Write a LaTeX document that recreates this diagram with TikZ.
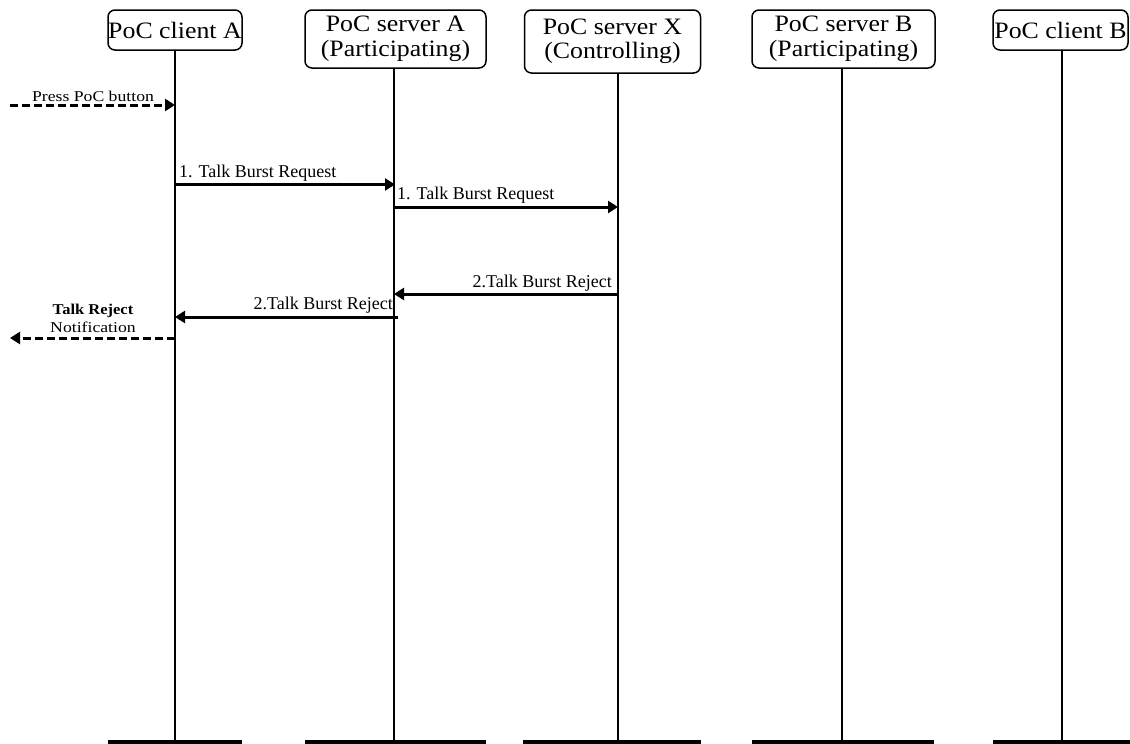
\documentclass[tikz,border=0pt]{standalone}
\usepackage{fontspec}
\setmainfont{Liberation Serif}
\usepackage{graphicx}
\usetikzlibrary{arrows.meta}
\newcommand\wide[1]{\scalebox{1.1}[1]{#1}}
\newcommand\wider[1]{\scalebox{1.18}[1]{#1}}
\begin{document}
\begin{tikzpicture}[x=1pt,y=-1pt,
  entity/.style={draw,line width=1.5pt,rounded corners=7pt,inner sep=0pt,
    font=\fontsize{23.5}{24.5}\selectfont,align=center},
  life/.style={line width=1.6pt},
  msg/.style={line width=3pt,-{Triangle[length=10pt,width=12pt]}},
  ext/.style={msg,dash pattern=on 8pt off 4pt},
  lbl/.style={font=\fontsize{18}{20}\selectfont,inner sep=0pt},
  side/.style={font=\fontsize{15}{17}\selectfont,inner sep=0pt},
  bar/.style={fill=black}]
\useasboundingbox (0,0) rectangle (1130,744);

% entities
\node[entity,minimum width=134pt,minimum height=40pt] (cA) at (175,30) {\wide{PoC client A}};
\node[entity,minimum width=181pt,minimum height=58pt] (sA) at (395.5,39) {\wide{PoC server A}\\\wide{(Participating)}};
\node[entity,minimum width=176pt,minimum height=63pt] (sX) at (612.5,41.5) {\wide{PoC server X}\\\wide{(Controlling)}};
\node[entity,minimum width=183pt,minimum height=58pt] (sB) at (843.5,39) {\wide{PoC server B}\\\wide{(Participating)}};
\node[entity,minimum width=135pt,minimum height=40pt] (cB) at (1060.5,30) {\wide{PoC client B}};

% lifeline ends
\coordinate (LA) at (175,742);
\coordinate (LSA) at (394,742);
\coordinate (LX) at (618,742);
\coordinate (LSB) at (842,742);
\coordinate (LB) at (1062,742);

\draw[life] (cA.south -| LA) -- (LA);
\draw[life] (sA.south -| LSA) -- (LSA);
\draw[life] (sX.south -| LX) -- (LX);
\draw[life] (sB.south -| LSB) -- (LSB);
\draw[life] (cB.south -| LB) -- (LB);

% bottom bars
\fill[bar] (108,740) rectangle (242,744);
\fill[bar] (305,740) rectangle (486,744);
\fill[bar] (523,740) rectangle (701,744);
\fill[bar] (752,740) rectangle (934,744);
\fill[bar] (993,740) rectangle (1130,744);

% message end points
\coordinate (p0) at (10,105);
\coordinate (p1) at (175,105);
\coordinate (m1a) at (175,184.5);
\coordinate (m1b) at (395,184.5);
\coordinate (m2a) at (394,207);
\coordinate (m2b) at (618,207);
\coordinate (m3a) at (618,294);
\coordinate (m3b) at (394,294);
\coordinate (m4a) at (398,317);
\coordinate (m4b) at (175,317);
\coordinate (n0) at (175,338);
\coordinate (n1) at (10,338);

% messages
\draw[ext] (p0) -- (p1);
\node[side,anchor=base] (tPress) at (93,101) {\wider{Press PoC button}};

\draw[msg] (m1a) -- (m1b);
\node[lbl,anchor=base west] (t1) at (179,177) {1. Talk Burst Request};

\draw[msg] (m2a) -- (m2b);
\node[lbl,anchor=base west] (t2) at (397,199.5) {1. Talk Burst Request};

\draw[msg] (m3a) -- (m3b);
\node[lbl,anchor=base east] (t3) at (612,287) {2.Talk Burst Reject};

\draw[msg] (m4a) -- (m4b);
\node[lbl,anchor=base east] (t4) at (393,309) {2.Talk Burst Reject};

\draw[ext] (n0) -- (n1);
\node[side,anchor=base] (tRej) at (93,314.5) {\textbf{\wide{Talk Reject}}};
\node[side,anchor=base] (tNot) at (93,332) {\wider{Notification}};
\end{tikzpicture}
\end{document}
